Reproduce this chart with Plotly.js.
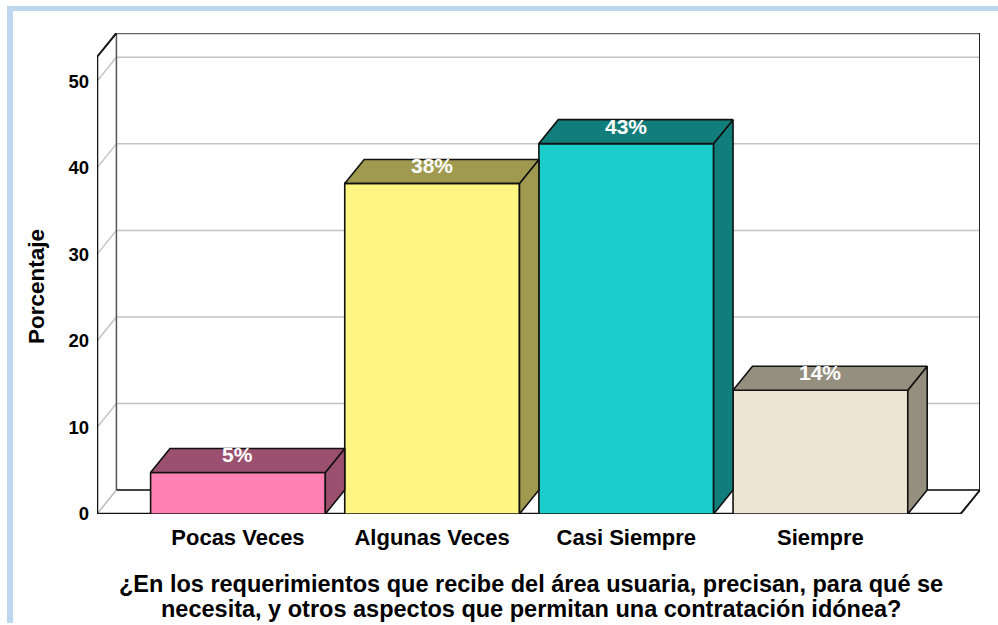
<!DOCTYPE html>
<html><head><meta charset="utf-8">
<script src="https://cdn.plot.ly/plotly-3.0.1.min.js"></script>
<style>html,body{margin:0;padding:0;background:#fff}</style>
</head><body><div id="chart" style="width:998px;height:625px"></div>
<script>
// ---- data ----
const categories = ['Pocas Veces', 'Algunas Veces', 'Casi Siempre', 'Siempre'];
const percentages = [4.8, 38.2, 42.8, 14.3];
const valueLabels = ['5%', '38%', '43%', '14%'];
const yTickValues = [0, 10, 20, 30, 40, 50];
const frontColors = ['#ff80b3', '#fff582', '#1ccdcd', '#ebe5d1'];
const shadeColors = ['#9c5070', '#a09a50', '#127e7b', '#948f7e'];
const xTitleLines = [
  '¿En los requerimientos que recibe del área usuaria, precisan, para qué se',
  'necesita, y otros aspectos que permitan una contratación idónea?'
];
const yTitle = 'Porcentaje';

// ---- geometry (pseudo-3D in data units) ----
const XL = -0.726, XR = 3.822, YT = 55.58;
const DX = 0.1, DY = 2.77, BW = 0.9;
const M = {l: 97, r: 18, t: 33, b: 111};
const PW = 998 - M.l - M.r, PH = 625 - M.t - M.b;
const px = p => (p - M.l) / PW;          // pixel -> paper x
const py = p => (625 - M.b - p) / PH;    // pixel -> paper y

const idx = categories.map((c, i) => i);
const traces = [];

// front faces
traces.push({
  type: 'bar', x: idx, y: percentages, width: BW,
  marker: {color: frontColors, line: {color: '#111', width: 1.6}},
  hoverinfo: 'skip', showlegend: false
});
// side and top faces
idx.forEach(i => {
  const v = percentages[i];
  const x0 = i - BW / 2, x1 = i + BW / 2;
  traces.push({
    type: 'scatter', mode: 'lines', fill: 'toself', fillcolor: shadeColors[i],
    x: [x1, x1 + DX, x1 + DX, x1, x1], y: [0, DY, v + DY, v, 0],
    line: {color: '#111', width: 1.6}, hoverinfo: 'skip', showlegend: false
  });
  traces.push({
    type: 'scatter', mode: 'lines', fill: 'toself', fillcolor: shadeColors[i],
    x: [x0, x1, x1 + DX, x0 + DX, x0], y: [v, v, v + DY, v + DY, v],
    line: {color: '#111', width: 1.6}, hoverinfo: 'skip', showlegend: false
  });
});

const shapes = [];
const ln = (x0, y0, x1, y1, color, width) => shapes.push({
  type: 'line', xref: 'x', yref: 'y', x0, y0, x1, y1, layer: 'below',
  line: {color, width}
});
// back-wall gridlines and side-wall diagonals
yTickValues.filter(v => v > 0).forEach(v => {
  ln(XL, v, XL + DX, v + DY, '#c4c4c4', 1.5);
  ln(XL + DX, v + DY, XR, v + DY, '#c4c4c4', 1.5);
});
ln(XL, 0, XL + DX, DY, '#bbbbbb', 1.5);             // floor left diagonal
ln(XL + DX, DY, XR, DY, '#444', 2);                  // back floor line
ln(XL + DX, DY, XL + DX, YT, '#555', 1.5);           // back-left edge
ln(XL + DX, YT, XR, YT, '#666', 2.5);                // top back edge
ln(XR, DY, XR, YT, '#222', 2);                       // right back edge
ln(XL, 0, XL, YT - DY, '#111', 2.5);                 // front y axis
ln(XL, YT - DY, XL + DX, YT, '#111', 2);             // top-left diagonal
ln(XL, 0, XR - DX, 0, '#111', 2.5);                  // front baseline
ln(XR - DX, 0, XR, DY, '#111', 2);                   // bottom-right diagonal

// light blue frame of the picture
shapes.push({type: 'rect', xref: 'paper', yref: 'paper', x0: px(7), x1: px(13), y0: py(623), y1: py(6),
  fillcolor: '#bdd7ee', line: {width: 0}, layer: 'below'});
shapes.push({type: 'rect', xref: 'paper', yref: 'paper', x0: px(7), x1: px(998), y0: py(11), y1: py(6),
  fillcolor: '#bdd7ee', line: {width: 0}, layer: 'below'});

const FONT = 'Liberation Sans, Arial, sans-serif';
const annotations = idx.map(i => ({
  x: i, y: percentages[i], xref: 'x', yref: 'y', text: valueLabels[i],
  showarrow: false, yanchor: 'middle', yshift: 17.5,
  font: {family: FONT, size: 21, color: '#ffffff', weight: 700}
}));
[584, 609].forEach((yc, k) => annotations.push({
  xref: 'paper', yref: 'paper', x: px(531), y: py(yc), text: xTitleLines[k],
  showarrow: false, xanchor: 'center', yanchor: 'middle',
  font: {family: FONT, size: 23.5, color: '#000', weight: 700}
}));
annotations.push({
  xref: 'paper', yref: 'paper', x: px(36), y: py(287), text: yTitle, textangle: -90,
  showarrow: false, xanchor: 'center', yanchor: 'middle',
  font: {family: FONT, size: 22.5, color: '#000', weight: 700}
});

const layout = {
  width: 998, height: 625, margin: M,
  paper_bgcolor: '#ffffff', plot_bgcolor: '#ffffff',
  showlegend: false,
  xaxis: {
    range: [XL, XR], tickvals: idx, ticktext: categories,
    showgrid: false, zeroline: false, showline: false, ticks: '',
    ticklabelstandoff: 8,
    tickfont: {family: FONT, size: 22, color: '#000', weight: 700}, fixedrange: true
  },
  yaxis: {
    range: [0, YT], tickvals: yTickValues, ticktext: yTickValues.map(String),
    showgrid: false, zeroline: false, showline: false, ticks: '',
    ticklabelstandoff: 7,
    tickfont: {family: FONT, size: 18.5, color: '#000', weight: 700}, fixedrange: true
  },
  shapes, annotations
};
Plotly.newPlot('chart', traces, layout, {displayModeBar: false, staticPlot: true});
</script></body></html>
